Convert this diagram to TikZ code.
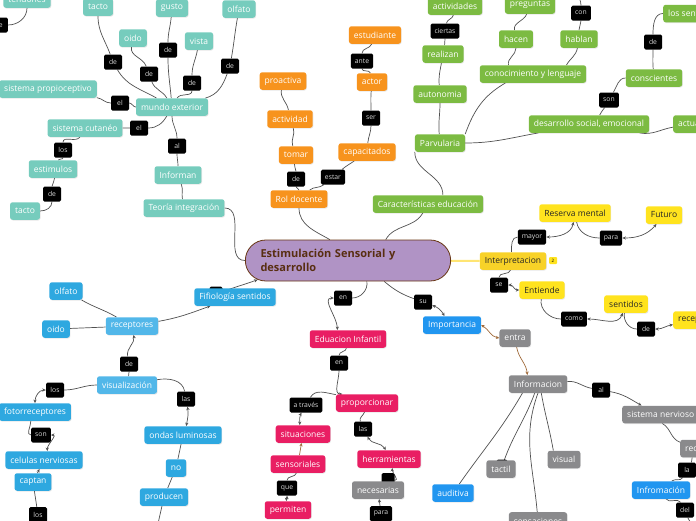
\documentclass[tikz,border=0pt]{standalone}
\usepackage{fontspec}
\setmainfont{Open Sans}
\usetikzlibrary{arrows.meta,shapes.misc,shadows}
\definecolor{mapteal}{HTML}{76CCBD}
\definecolor{maporange}{HTML}{F7931D}
\definecolor{mapgreen}{HTML}{7CBB42}
\definecolor{mapyellow}{HTML}{FFE31E}
\definecolor{mapgold}{HTML}{F8D228}
\definecolor{mapblue}{HTML}{2196F0}
\definecolor{mapsky}{HTML}{2EA8E0}
\definecolor{maplight}{HTML}{52B7E9}
\definecolor{mappink}{HTML}{E91E63}
\definecolor{mapgray}{HTML}{8A8A8C}
\definecolor{mappurple}{HTML}{B093C5}
\definecolor{mapbrown}{HTML}{683614}
\definecolor{maplink}{HTML}{505050}
\definecolor{mapbrlink}{HTML}{A06A3A}
\definecolor{mapyline}{HTML}{FFE573}
\pgfdeclarelayer{bg}
\pgfsetlayers{bg,main}

\begin{document}
\begin{tikzpicture}[x=1pt,y=-1pt,
  >={Stealth[length=3.5pt,width=3.2pt]},
  topic/.style={fill=#1,text=white,rounded corners=2.5pt,
    font=\fontsize{8.5}{10}\selectfont,inner xsep=5pt,inner ysep=0pt,
    minimum height=17.5pt,
    drop shadow={shadow xshift=0.6pt,shadow yshift=-0.8pt,opacity=0.2}},
  ytopic/.style={topic=#1,text=black!85},
  lbl/.style={fill=black,text=white!85!black,rounded corners=1.5pt,
    font=\fontsize{6.8}{8}\selectfont,inner xsep=4pt,inner ysep=0pt,
    minimum height=15pt,minimum width=18pt},
  central/.style={rounded rectangle,fill=mappurple,draw=mapbrown,
    line width=0.8pt,text=mapbrown!85!black,
    font=\fontsize{11}{13.5}\selectfont\bfseries,
    minimum width=212pt,minimum height=41pt,text width=175pt,align=left},
  link/.style={draw=maplink,line width=0.7pt},
  brlink/.style={draw=mapbrlink,line width=0.7pt},
  yline/.style={draw=mapyline,line width=2pt}
]
\useasboundingbox (0,0) rectangle (696,520);

\node[central] (central) at (348,260.5) {Estimulación Sensorial y\\desarrollo};

\node[topic=mapteal] (tendones) at (27,-1) {tendones};
\node[lbl,anchor=east] (dTend) at (8,25) {de};
\node[topic=mapteal] (tactoSup) at (98,7) {tacto};
\node[topic=mapteal] (gusto) at (172,8) {gusto};
\node[topic=mapteal] (olfatoSup) at (239,9) {olfato};
\node[topic=mapteal] (oidoSup) at (133,38) {oido};
\node[topic=mapteal] (vista) at (199,41) {vista};
\node[lbl] (dTacto) at (113,62) {de};
\node[lbl] (dOido) at (149,74) {de};
\node[lbl] (dGusto) at (168,50) {de};
\node[lbl] (dVista) at (192,83) {de};
\node[lbl] (dOlfato) at (230,66) {de};
\node[topic=mapteal] (mundo) at (172,107) {mundo exterior};
\node[topic=mapteal] (propio) at (48,89) {sistema propioceptivo};
\node[lbl] (elProp) at (120,103) {el};
\node[lbl] (elCut) at (139,128) {el};
\node[topic=mapteal] (cutaneo) at (85,128) {sistema cutanéo};
\node[lbl] (losEst) at (63,150) {los};
\node[topic=mapteal] (estimulos) at (53,169) {estimulos};
\node[lbl] (deEst) at (52,194) {de};
\node[topic=mapteal] (tactoInf) at (25,211) {tacto};
\node[lbl] (alInf) at (177,146) {al};
\node[topic=mapteal] (informan) at (178,175) {Informan};
\node[topic=mapteal] (teoria) at (184,208) {Teoría integración};

\node[topic=maporange] (estudiante) at (375,35) {estudiante};
\node[lbl] (anteL) at (362,61) {ante};
\node[topic=maporange] (actor) at (372,82) {actor};
\node[lbl] (serL) at (371,118) {ser};
\node[topic=maporange] (capacitados) at (367,152) {capacitados};
\node[lbl] (estarL) at (333,177) {estar};
\node[topic=maporange] (proactiva) at (283,81) {proactiva};
\node[topic=maporange] (actividad) at (290,119) {actividad};
\node[topic=maporange] (tomar) at (296,155) {tomar};
\node[lbl] (deRol) at (296,179) {de};
\node[topic=maporange] (rol) at (299,199) {Rol docente};

\node[topic=mapgreen] (actividades) at (455,6) {actividades};
\node[lbl] (ciertasL) at (445,31) {ciertas};
\node[topic=mapgreen] (realizan) at (443,54) {realizan};
\node[topic=mapgreen] (autonomia) at (440,94) {autonomia};
\node[topic=mapgreen] (parvularia) at (440,143) {Parvularia};
\node[topic=mapgreen] (caract) at (428,204) {Características educación};
\node[topic=mapgreen] (preguntas) at (530,5) {preguntas};
\node[topic=mapgreen] (hacen) at (516,39) {hacen};
\node[lbl] (conL) at (581,13) {con};
\coordinate (conUp) at (578,-8);
\node[topic=mapgreen] (hablan) at (579,39) {hablan};
\node[topic=mapgreen] (conocimiento) at (533,74) {conocimiento y lenguaje};
\node[topic=mapgreen] (desarrollo) at (589,124) {desarrollo social, emocional};
\node[lbl] (sonL) at (609,100) {son};
\node[topic=mapgreen] (conscientes) at (654,78) {conscientes};
\node[lbl] (deSent) at (653,42) {de};
\node[topic=mapgreen,anchor=west] (lossentidos) at (663,13.5) {los sentidos};
\node[topic=mapgreen,anchor=west] (actu) at (673,124) {actuar};

\node[ytopic=mapgold] (interp) at (513,261) {Interpretacion};
\node[fill=mapyellow,rounded corners=1pt,inner sep=0pt,minimum width=8pt,
  minimum height=7pt,font=\fontsize{4.5}{5}\selectfont] (badge) at (553,260.5) {2};
\node[lbl] (mayorL) at (532,237) {mayor};
\node[ytopic=mapyellow] (reserva) at (575,213) {Reserva mental};
\node[lbl] (paraL) at (611,238) {para};
\node[ytopic=mapyellow] (futuro) at (664,215) {Futuro};
\node[lbl] (seL) at (499,285) {se};
\node[ytopic=mapyellow] (entiende) at (542,290) {Entiende};
\node[lbl] (comoL) at (574,319) {como};
\node[ytopic=mapyellow] (sentidos) at (626,304) {sentidos};
\node[lbl] (deRec) at (646,329) {de};
\node[ytopic=mapyellow,anchor=west] (receptoresY) at (673,320) {receptores};

\node[lbl,minimum width=13pt] (hidFifi) at (216,294) {};
\node[topic=mapsky] (fifi) at (235,297) {Fifiología sentidos};
\node[topic=maplight] (receptores) at (132,326) {receptores};
\node[topic=mapsky] (olfatoInf) at (66,291) {olfato};
\node[topic=mapsky] (oidoInf) at (56,329) {oido};
\node[lbl] (deRecep) at (129,364) {de};
\node[topic=maplight] (visualizacion) at (127,385) {visualización};
\node[lbl] (losFoto) at (55,390) {los};
\node[topic=mapsky] (fotorrec) at (35,412) {fotorreceptores};
\node[lbl] (sonCel) at (41,435) {son};
\node[topic=mapsky] (celulas) at (44,460) {celulas nerviosas};
\node[topic=mapsky] (captan) at (33,482) {captan};
\node[lbl,anchor=north] (losCap) at (38,507) {los};
\node[lbl] (lasOnd) at (186,399) {las};
\node[topic=mapsky] (ondas) at (183,435) {ondas luminosas};
\node[topic=mapsky] (no) at (176,468) {no};
\node[topic=mapsky] (producen) at (164,497) {producen};
\coordinate (prodDown) at (157,528);

\node[lbl] (enEdu) at (343,298) {en};
\node[topic=mappink] (eduinf) at (348,339) {Eduacion Infantil};
\node[lbl] (enProp) at (339,363) {en};
\node[topic=mappink] (proporcionar) at (367,403) {proporcionar};
\node[lbl] (atraves) at (306,405) {a través};
\node[topic=mappink] (situaciones) at (303,434) {situaciones};
\node[topic=mappink] (sensoriales) at (298,464) {sensoriales};
\node[lbl] (queL) at (287,488) {que};
\node[topic=mappink] (permiten) at (288,510) {permiten};
\node[lbl] (lasHer) at (363,429) {las};
\node[topic=mappink] (herramientas) at (389,459) {herramientas};
\node[lbl,minimum width=13pt] (hidHer) at (388,480.5) {};
\node[topic=mapgray] (necesarias) at (378,490) {necesarias};
\node[lbl,anchor=north] (paraNec) at (381,506) {para};

\node[lbl] (suL) at (423,302) {su};
\node[topic=mapblue] (importancia) at (452,325) {Importancia};
\node[topic=mapgray] (entra) at (515,338) {entra};
\node[topic=mapgray] (informacion) at (538,384) {Informacion};
\node[lbl] (alSis) at (601,390) {al};
\node[topic=mapgray,anchor=west] (sisnervioso) at (622,414.5) {sistema nervioso};
\node[topic=mapgray,anchor=west] (recibe) at (680,448.5) {recibe};
\node[lbl] (laInf) at (687,470) {la};
\node[topic=mapblue] (infromacion) at (661,490) {Infromación};
\node[lbl] (delL) at (685,510) {del};
\coordinate (delDown) at (694,528);
\node[topic=mapblue] (auditiva) at (453,493) {auditiva};
\node[lbl,minimum width=11pt] (hidTac) at (502,467) {};
\node[topic=mapgray] (tactil) at (501,469) {tactil};
\node[topic=mapgray] (visual) at (564,459.5) {visual};
\node[topic=mapgray,anchor=north] (sensaciones) at (538,512) {sensaciones};

\begin{pgfonlayer}{bg}
\draw[link] (tendones) to[out=-90,in=0] (dTend);
\draw[link] (tactoSup) to[out=-90,in=110] (dTacto) to[out=-60,in=150] (mundo);
\draw[link] (oidoSup) to[out=-100,in=110] (dOido) to[out=-70,in=120] (mundo);
\draw[link] (gusto) to[out=-95,in=90] (dGusto) to[out=-90,in=95] (mundo);
\draw[link] (vista) to[out=-100,in=90] (dVista) to[out=-90,in=60] (mundo);
\draw[link] (olfatoSup) to[out=-100,in=80] (dOlfato) to[out=-110,in=15] (mundo);
\draw[link] (propio) to[out=-10,in=180] (elProp) to[out=0,in=180] (mundo);
\draw[link] (mundo) to[out=-120,in=0] (elCut) to[out=180,in=0] (cutaneo);
\draw[link] (cutaneo) to[out=-120,in=90] (losEst) to[out=-90,in=60] (estimulos);
\draw[link] (estimulos) to[out=-80,in=90] (deEst) to[out=-90,in=0] (tactoInf);
\draw[link] (mundo) to[out=-90,in=90] (alInf) to[out=-90,in=90] (informan);
\draw[link] (informan) to[out=-70,in=100] (teoria);
\draw[link] (teoria) to[out=0,in=180] (central);

\draw[link] (estudiante) to[out=-110,in=90] (anteL) to[out=-90,in=100] (actor);
\draw[link] (actor) to[out=-95,in=90] (serL) to[out=-90,in=85] (capacitados);
\draw[link] (capacitados) to[out=-145,in=40] (estarL) to[out=-140,in=40] (rol);
\draw[link] (proactiva) to[out=-100,in=100] (actividad);
\draw[link] (actividad) to[out=-70,in=110] (tomar);
\draw[link] (tomar) to[out=-100,in=90] (deRol) to[out=-90,in=90] (rol);
\draw[link] (rol) to[out=-90,in=150] (central.131);

\draw[link] (realizan) to[out=80,in=-90] (ciertasL) to[out=80,in=-100] (actividades);
\draw[link] (autonomia) to[out=95,in=-100] (realizan);
\draw[link] (parvularia) to[out=95,in=-90] (autonomia);
\draw[link] (parvularia.south west) to[out=-90,in=90] (caract.31);
\draw[link] (caract) to[out=-120,in=60] (central.29);
\draw[link] (parvularia.north east) to[out=70,in=-150] (conocimiento.-162);
\draw[link] (parvularia) to[out=0,in=190] (desarrollo);
\draw[link] (conocimiento.160) to[out=100,in=-90] (hacen);
\draw[link] (hacen) to[out=100,in=-110] (preguntas);
\draw[link] (conocimiento.15) to[out=60,in=-100] (hablan);
\draw[link] (hablan) to[out=90,in=-90] (conL) to[out=90,in=-90] (conUp);
\draw[link] (desarrollo.40) to[out=70,in=-120] (sonL) to[out=60,in=180] (conscientes);
\draw[link] (conscientes) to[out=95,in=-90] (deSent) to[out=90,in=180] (lossentidos);
\draw[link] (desarrollo) to[out=-10,in=190] (actu);

\draw[yline] (central) -- (interp);
\draw[link,<->] (interp.100) to[out=90,in=180] (mayorL) to[out=0,in=-100] (reserva);
\draw[link,<->] (reserva.-80) to[out=-80,in=180] (paraL) to[out=0,in=-130] (futuro);
\draw[link,<->] (interp.-105) to[out=-100,in=90] (seL) to[out=0,in=180] (entiende);
\draw[link,<->] (entiende.-95) to[out=-100,in=180] (comoL) to[out=0,in=-110] (sentidos);
\draw[link,<->] (sentidos) to[out=-100,in=180] (deRec) to[out=0,in=190] (receptoresY);

\draw[link,->] (hidFifi) to[out=20,in=-160] (central.-168);
\draw[link,->] (receptores) to[out=10,in=-160] (fifi);
\draw[link] (receptores) to[out=150,in=-30] (olfatoInf);
\draw[link] (oidoInf) -- (receptores);
\draw[link,->] (visualizacion.80) to[out=90,in=-90] (deRecep) to[out=100,in=-80] (receptores);
\draw[link,<->] (visualizacion) to[out=180,in=0] (losFoto) to[out=180,in=90] (fotorrec);
\draw[link,<->] (fotorrec.-115) to[out=-90,in=180] (sonCel) to[out=0,in=90] (celulas.70);
\draw[link,->] (captan) -- (celulas);
\draw[link] (losCap) -- (captan);
\draw[link,<->] (visualizacion) to[out=10,in=100] (lasOnd) to[out=-80,in=80] (ondas.70);
\draw[link] (ondas) -- (no);
\draw[link] (no) -- (producen);
\draw[link] (producen) -- (prodDown);

\draw[link,<->] (central.-48) to[out=-80,in=0] (enEdu) to[out=180,in=90] (eduinf.140);
\draw[link,->] (eduinf.-100) to[out=-90,in=90] (enProp) to[out=-90,in=180] (proporcionar.160);
\draw[link,<->] (proporcionar.165) to[out=170,in=60] (atraves) to[out=-120,in=90] (situaciones.110);
\draw[brlink,->] (sensoriales) -- (situaciones);
\draw[link,<->] (sensoriales.-100) to[out=-100,in=90] (queL) to[out=-90,in=90] (permiten.100);
\draw[link,<->] (proporcionar.-105) to[out=-110,in=110] (lasHer) to[out=-60,in=120] (herramientas.110);
\draw[link,->] (hidHer) to[out=0,in=-90] (herramientas.-70);
\draw[link,->] (paraNec) -- (necesarias);

\draw[link,<->] (central.-30) to[out=-40,in=160] (suL) to[out=-20,in=120] (importancia.130);
\draw[brlink,<->] (importancia.east) to[out=-30,in=170] (entra.west);
\draw[brlink,->] (entra.-80) to[out=-80,in=95] (informacion.140);
\draw[link,->] (informacion) to[out=5,in=170] (alSis) to[out=-10,in=150] (sisnervioso.155);
\draw[link] (sisnervioso.-80) to[out=-30,in=160] (recibe);
\draw[link] (recibe) to[out=-120,in=60] (laInf) to[out=-120,in=40] (infromacion);
\draw[link] (infromacion) to[out=-60,in=120] (delL) to[out=-70,in=100] (delDown);
\draw[link] (informacion.-150) to[out=-120,in=55] (auditiva);
\draw[link] (informacion.-110) to[out=-110,in=70] (tactil);
\draw[link] (informacion.-90) to[out=-110,in=95] (sensaciones);
\draw[link] (informacion.-70) to[out=-80,in=100] (visual.140);
\end{pgfonlayer}
\end{tikzpicture}
\end{document}
